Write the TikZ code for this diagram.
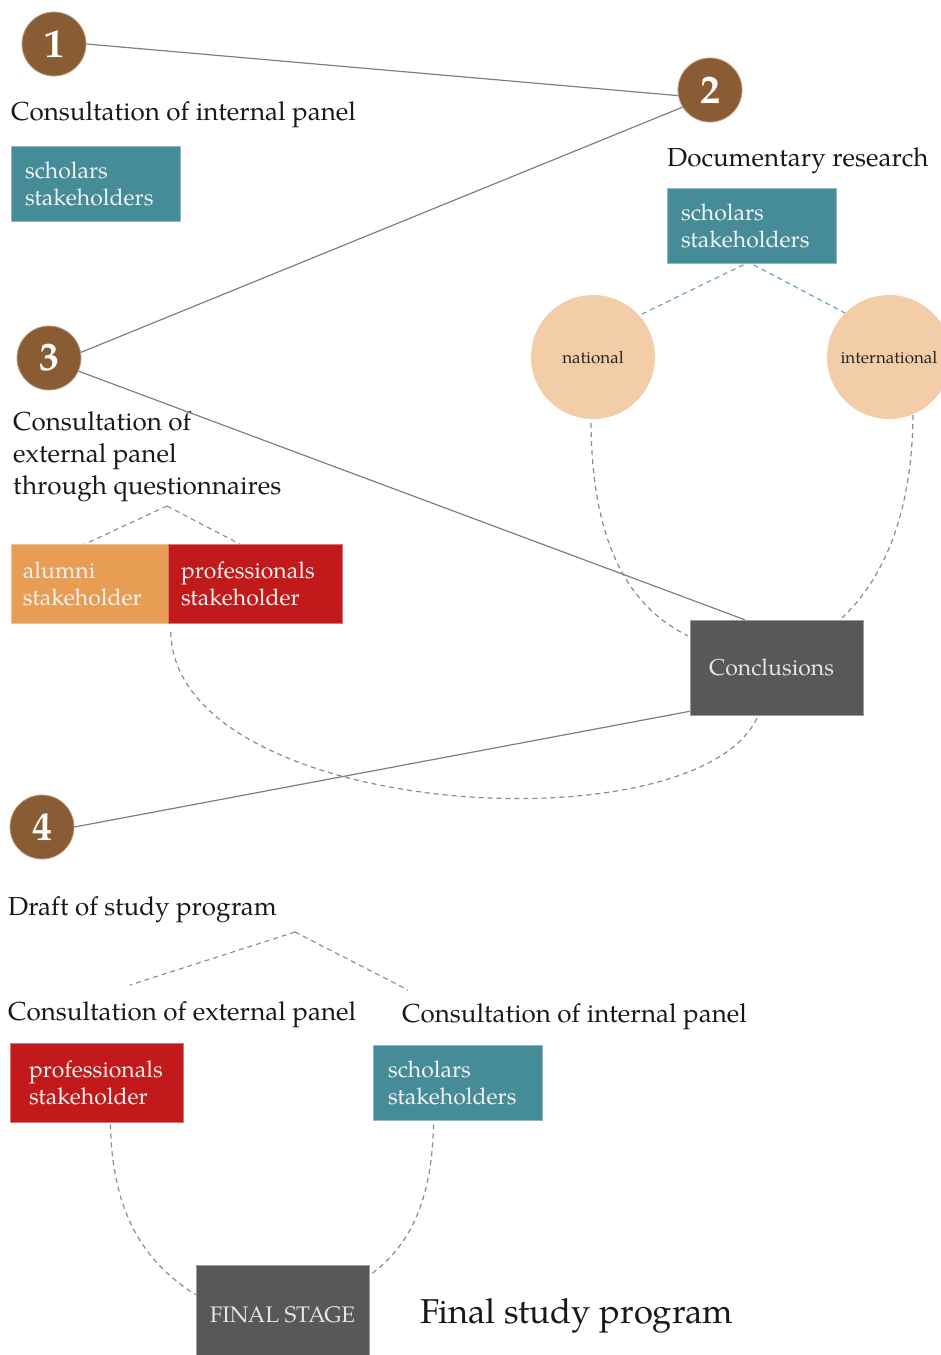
\documentclass[tikz,border=0pt]{standalone}
\usepackage{fontspec}
\setmainfont{TeX Gyre Pagella}
\usetikzlibrary{calc}
\definecolor{brownc}{HTML}{8A5C33}
\definecolor{tealc}{HTML}{458C98}
\definecolor{peachc}{HTML}{F2CDA8}
\definecolor{orangec}{HTML}{E89D55}
\definecolor{redc}{HTML}{C21A1A}
\definecolor{darkc}{HTML}{585858}
\definecolor{connc}{HTML}{7F7F7F}
\definecolor{dashg}{HTML}{8C8C8C}
\definecolor{dasht}{HTML}{6AA6B0}
\definecolor{dashb}{HTML}{B08A6A}
\definecolor{boxtext}{HTML}{F2F2F2}
\tikzset{
  numc/.style={circle, fill=brownc, draw=brownc!60!white, line width=0.8pt, minimum size=64pt, inner sep=0pt, text=white, font=\fontsize{40}{40}\selectfont\bfseries},
  head/.style={anchor=base west, inner sep=0pt, text=black!90, align=left, font=\fontsize{26}{32}\selectfont},
  sbox/.style={rectangle, inner ysep=0pt, align=left, text=boxtext, font=\fontsize{23}{27}\selectfont},
  tealbox/.style={sbox, fill=tealc, draw=tealc!60!white, line width=0.6pt, minimum height=75pt},
  redbox/.style={sbox, fill=redc, draw=redc!60!white, line width=0.6pt, minimum height=79pt},
  orangebox/.style={sbox, fill=orangec, draw=orangec!60!white, line width=0.6pt, minimum height=79pt},
  darkbox/.style={rectangle, fill=darkc, draw=darkc!60!white, line width=0.6pt, text=black!10, inner ysep=0pt},
  peachc/.style={circle, fill=peachc, minimum size=124pt, inner sep=0pt, text=black!85, font=\fontsize{17}{17}\selectfont},
  conn/.style={draw=connc, line width=1.2pt},
  gdash/.style={draw=dashg, line width=1.2pt, dash pattern=on 5pt off 4pt},
  tdash/.style={draw=dasht, line width=1.2pt, dash pattern=on 5pt off 4pt},
  bdash/.style={draw=dashb, line width=1.2pt, dash pattern=on 5pt off 4pt},
}
\begin{document}
\begin{tikzpicture}[x=1pt,y=-1pt]
\useasboundingbox (0,0) rectangle (941,1355);
\clip (0,0) rectangle (941,1355);

% numbered circles
\node[numc] (c1) at (54,44) {1};
\node[numc] (c2) at (710,90) {2};
\node[numc] (c3) at (49,358) {3};
\node[numc] (c4) at (42,827) {4};

% headings
\node[head] (h1) at (11,120) {Consultation of internal panel};
\node[head] (h2) at (667,166) {Documentary research};
\node[head] (h3) at (13,494) {Consultation of\\external panel\\through questionnaires};
\node[head] (h4) at (8,915) {Draft of study program};
\node[head] (h5) at (8,1020) {Consultation of external panel};
\node[head] (h6) at (402,1022) {Consultation of internal panel};
\node[head, font=\fontsize{34.5}{36}\selectfont] (h7) at (420,1323) {Final study program};

% boxes
\node[tealbox, text width=141pt, inner xsep=14pt] (b1) at (95.5,183.5) {scholars\\stakeholders};
\node[tealbox, text width=141pt, inner xsep=14pt] (b2) at (751.5,226) {scholars\\stakeholders};
\node[orangebox, text width=133pt, inner xsep=12pt] (alum) at (89.5,584) {alumni\\stakeholder};
\node[redbox, text width=148pt, inner xsep=13pt] (prof) at (255,584) {professionals\\stakeholder};
\node[redbox, text width=135pt, inner xsep=19pt] (prof4) at (96.5,1082.5) {professionals\\stakeholder};
\node[tealbox, text width=139pt, inner xsep=15pt] (sch4) at (457.5,1082.5) {scholars\\stakeholders};

\node[darkbox, minimum height=95pt, text width=135pt, inner xsep=19pt, align=left, font=\fontsize{23}{23}\selectfont] (concl) at (776.5,667.5) {Conclusions};
\node[darkbox, minimum height=100pt, minimum width=173pt, inner xsep=0pt, font=\fontsize{22.5}{23}\selectfont] (final) at (282.5,1315) {FINAL STAGE};

% peach circles
\node[peachc] (nat) at (593,357) {national};
\node[peachc] (intl) at (889,357) {international};

% solid connectors
\draw[conn] (c1.east) -- (c2.190);
\draw[conn] (c2.212) -- (c3.10);
\draw[conn] (c3.336) -- ($(concl.north west)+(55,0)$);
\draw[conn] (c4.east) -- ($(concl.south west)+(0,-4)$);

% teal dashed
\draw[tdash] ($(b2.south)+(-8,1)$) -- (nat.42);
\draw[tdash] ($(b2.south)+(2,1)$) -- (intl.135);

% brown dashed (3)
\coordinate (ap3) at (167,506);
\draw[bdash] (ap3) -- ($(alum.north)+(-5,0)$);
\draw[bdash] (ap3) -- ($(prof.north)+(-15,0)$);

% brown dashed (4)
\coordinate (ap4) at (295,932);
\coordinate (l4) at (130,985);
\coordinate (r4) at (408,990);
\draw[bdash] (ap4) -- (l4);
\draw[bdash] (ap4) -- (r4);

% gray dashed arcs
\draw[gdash] ($(nat.south)+(-2,4)$) .. controls (592,560) and (640,612) .. ($(concl.north west)+(-2,16)$);
\draw[gdash] ($(intl.south)+(24,-4)$) .. controls (912,520) and (880,582) .. ($(concl.north east)+(-21,-2)$);
\draw[gdash] ($(prof.south west)+(3,8)$) .. controls (175,820) and (700,850) .. ($(concl.south west)+(68,1)$);
\draw[gdash] ($(prof4.south)+(14,2)$) .. controls (112,1220) and (150,1266) .. ($(final.north west)+(0,30)$);
\draw[gdash] ($(sch4.south)+(-24,4)$) .. controls (432,1200) and (410,1246) .. ($(final.north east)+(1,10)$);
\end{tikzpicture}
\end{document}
